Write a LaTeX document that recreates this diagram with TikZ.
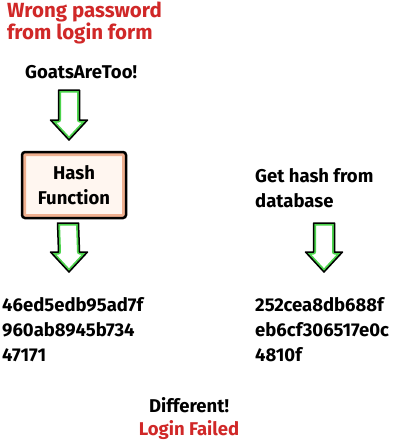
\documentclass[tikz,border=0pt]{standalone}
\usepackage{fontspec}
\setmainfont{Fira Sans}
\usepackage{tikz}
\usetikzlibrary{calc}
\definecolor{failred}{HTML}{D02828}
\definecolor{arrowgreen}{HTML}{4CD44C}
\definecolor{boxband}{HTML}{EFB090}
\definecolor{boxfill}{HTML}{FFF6F0}
\newcommand{\arrowoutline}[2]{($(#1)+(-10.5,0)$) -- ($(#2)+(-10.5,-20)$) -- ($(#2)+(-18.5,-20)$) -- (#2) -- ($(#2)+(18.5,-20)$) -- ($(#2)+(10.5,-20)$) -- ($(#1)+(10.5,0)$) -- cycle}
\newcommand{\blockarrow}[2]{%
  \draw[arrowbody, path picture={\draw[arrowgreen, line width=5pt] \arrowoutline{#1}{#2};}]
    \arrowoutline{#1}{#2};}

\begin{document}
\begin{tikzpicture}[x=1pt,y=-1pt,
    every node/.style={font=\bfseries\fontsize{18.5}{25}\selectfont, inner sep=0pt},
    redtext/.style={text=failred},
    arrowbody/.style={draw=black, line width=1.5pt, line join=round, fill=white},
    hashbox/.style={draw=black, line width=2.5pt, rounded corners=3pt, fill=boxfill,
      minimum width=104pt, minimum height=66pt, align=center,
      path picture={\draw[boxband, line width=8pt] (path picture bounding box.south west) rectangle (path picture bounding box.north east);}}]
  \useasboundingbox (0,0) rectangle (403,442);
  % login side
  \node[redtext, anchor=west, align=left, font=\bfseries\fontsize{20.5}{20}\selectfont] (wrongpw) at (7,23) {Wrong password\\from login form};
  \node[anchor=west] (goat) at (25,72) {GoatsAreToo!};
  \node[hashbox] (hashfn) at (74,185) {Hash\\Function};
  \node[anchor=west, align=left] (lefthash) at (2,330) {46ed5edb95ad7f\\960ab8945b734\\47171};
  % database side
  \node[anchor=west, align=left] (gethash) at (255,188) {Get hash from\\database};
  \node[anchor=west, align=left] (righthash) at (255,330) {252cea8db688f\\eb6cf306517e0c\\4810f};
  % result
  \node (different) at (189,405) {Different!};
  \node[redtext] (failed) at (189,430) {Login Failed};
  % arrows
  \coordinate (a1top) at (69,90);   \coordinate (a1tip) at (69,140);
  \coordinate (a2top) at (68,223);  \coordinate (a2tip) at (69,272);
  \coordinate (a3top) at (324,223); \coordinate (a3tip) at (324,272);
  \blockarrow{a1top}{a1tip}
  \blockarrow{a2top}{a2tip}
  \blockarrow{a3top}{a3tip}
\end{tikzpicture}
\end{document}
